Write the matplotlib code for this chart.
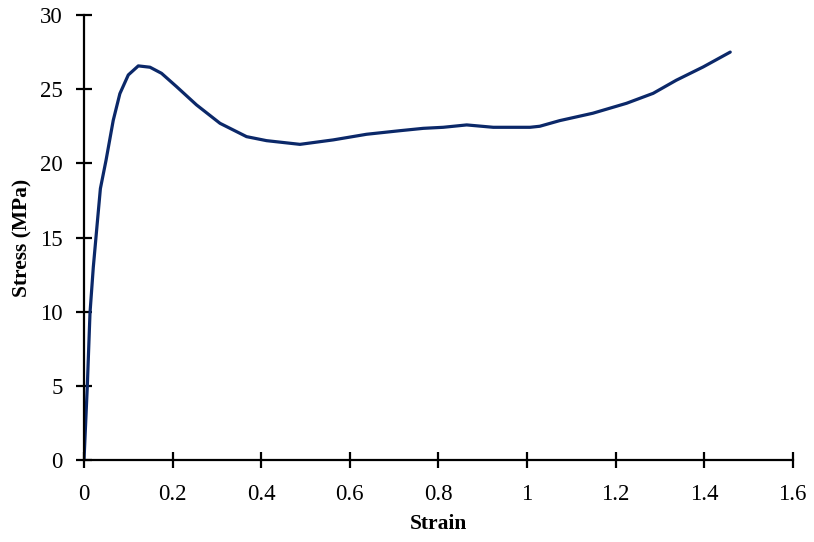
import matplotlib.pyplot as plt
import numpy as np

# stress-strain readings
strain = [0.0, 0.0075, 0.0135, 0.021, 0.03, 0.037, 0.0497, 0.066, 0.081, 0.100,
          0.1226, 0.149, 0.175, 0.209, 0.254, 0.307, 0.337, 0.367, 0.412, 0.4875,
          0.5626, 0.638, 0.713, 0.766, 0.811, 0.864, 0.924, 1.007, 1.029, 1.074,
          1.149, 1.225, 1.285, 1.337, 1.398, 1.459]
stress = [0.0, 5.0, 9.9, 13.0, 16.0, 18.3, 20.2, 22.9, 24.7, 25.96,
          26.57, 26.48, 26.07, 25.17, 23.94, 22.7, 22.25, 21.8, 21.53, 21.28,
          21.58, 21.96, 22.2, 22.36, 22.43, 22.59, 22.43, 22.43, 22.5, 22.88,
          23.38, 24.05, 24.72, 25.6, 26.5, 27.5]

xtick_labels = ['0', '0.2', '0.4', '0.6', '0.8', '1', '1.2', '1.4', '1.6']

plt.rcParams['font.family'] = ['Liberation Serif', 'DejaVu Serif']

fig = plt.figure(figsize=(8.14, 5.42), dpi=100)
ax = fig.add_axes([0.1032, 0.1513, 0.8706, 0.821])

ax.plot(strain, stress, color='#0b2869', linewidth=2.3,
        solid_capstyle='round', solid_joinstyle='round')

ax.set_xlim(0, 1.6)
ax.set_ylim(0, 30)
ax.set_xticks(np.arange(0, 1.61, 0.2))
ax.set_xticklabels(xtick_labels)
ax.set_yticks(np.arange(0, 31, 5))

for side in ('top', 'right'):
    ax.spines[side].set_visible(False)
for side in ('left', 'bottom'):
    ax.spines[side].set_linewidth(1.6)

ax.tick_params(direction='inout', length=11, width=1.6, labelsize=16.5)
ax.tick_params(axis='y', pad=10)
ax.tick_params(axis='x', pad=12)
ax.set_xlabel('Strain', fontsize=15.5, fontweight='bold', labelpad=6)
ax.set_ylabel('Stress (MPa)', fontsize=15.5, fontweight='bold', labelpad=5)

fig.savefig('out.png', dpi=100)
